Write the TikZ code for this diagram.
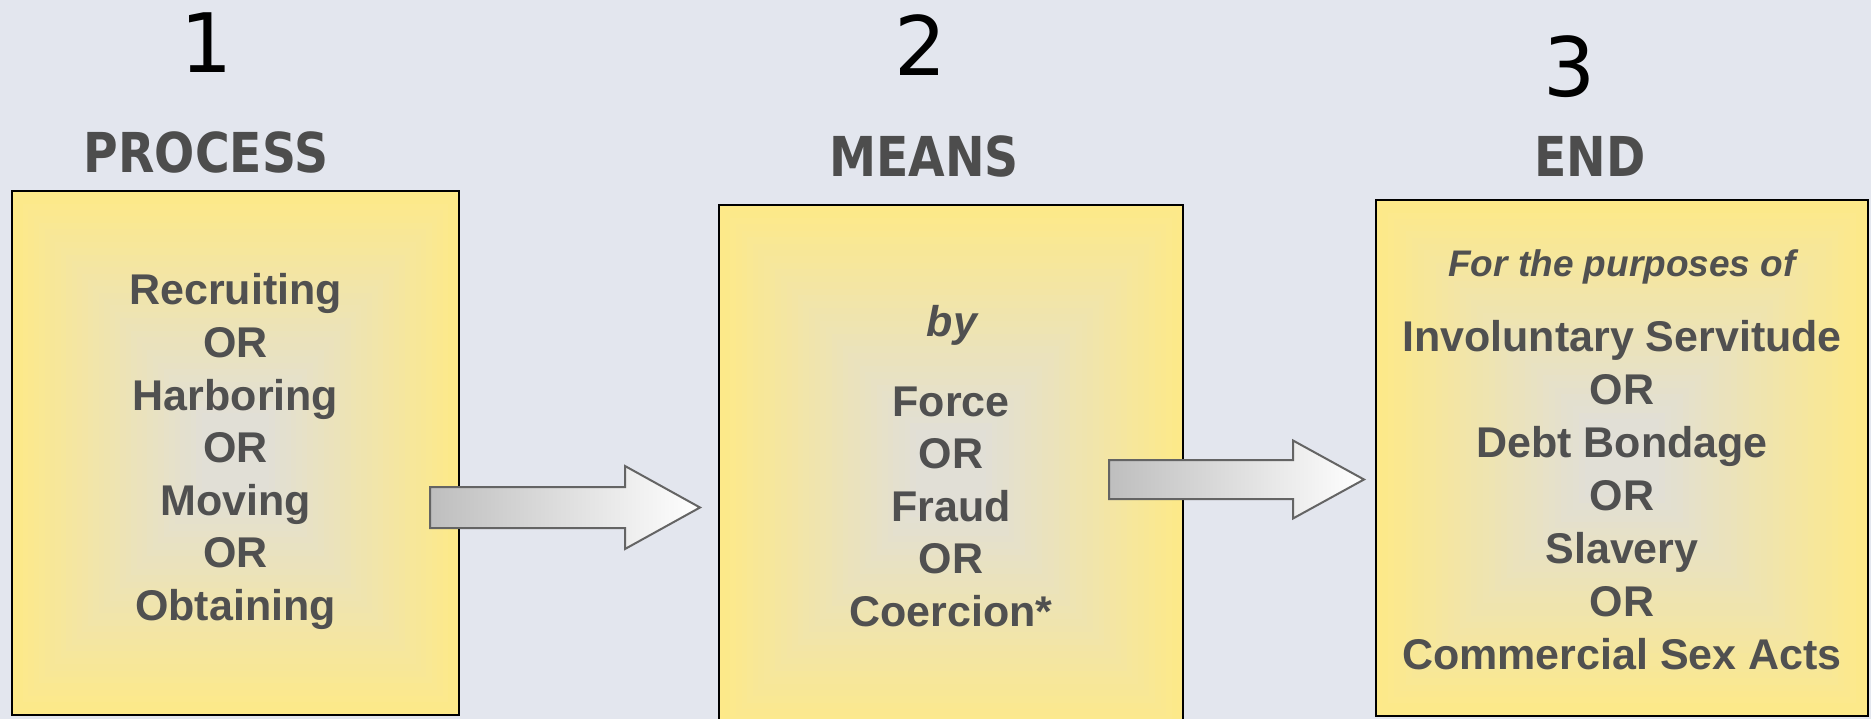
\documentclass[tikz,border=0pt]{standalone}
\usepackage{fontspec}
\setmainfont{Liberation Sans}
\newfontfamily\numfont{DejaVu Sans}
\newfontfamily\headfont[FakeStretch=0.86]{DejaVu Sans}
\usetikzlibrary{calc}
\definecolor{bg}{RGB}{227,230,238}
\definecolor{boxy}{RGB}{253,233,137}
\definecolor{boxg}{RGB}{225,223,214}
\definecolor{txt}{RGB}{80,80,80}
\definecolor{headc}{RGB}{77,77,77}
\definecolor{arrline}{RGB}{100,100,100}
\definecolor{arrleft}{RGB}{190,190,190}
\newcommand\gradbox[4]{%
  \fill[boxy] (#1,#2) rectangle (#3,#4);
  \foreach \i in {1,...,40}{
    \pgfmathsetmacro\tt{\i/40}
    \pgfmathtruncatemacro\pp{min(100,100*\tt*1.15)}
    \fill[boxg!\pp!boxy] ({#1+\tt*(#3-#1)/2*0.97},{#2+\tt*(#4-#2)/2*0.97}) rectangle ({#3-\tt*(#3-#1)/2*0.97},{#4-\tt*(#4-#2)/2*0.97});
  }}
\tikzset{
  boxframe/.style={draw=black, line width=2pt, rectangle, inner sep=0pt},
  body/.style={font=\fontsize{43}{52}\selectfont\bfseries, text=txt, anchor=base, inner sep=0pt},
  bodyit/.style={font=\fontsize{37}{44}\selectfont\bfseries\itshape, text=txt, anchor=base, inner sep=0pt},
  bodyitl/.style={font=\fontsize{43}{52}\selectfont\bfseries\itshape, text=txt, anchor=base, inner sep=0pt},
  head/.style={font=\headfont\bfseries\fontsize{55}{60}\selectfont, text=headc, anchor=base, inner sep=0pt},
  num/.style={font=\numfont\fontsize{82}{90}\selectfont, text=black, anchor=base, inner sep=0pt},
  blockarrow/.style={draw=arrline, line width=2pt, line join=miter, left color=arrleft, right color=white, shading angle=90}
}
\begin{document}
\begin{tikzpicture}[x=1pt,y=-1pt]
\useasboundingbox (0,0) rectangle (1871,719);
\clip (0,0) rectangle (1871,719);
\fill[bg] (0,0) rectangle (1871,719);

% box fills
\gradbox{12}{191}{459}{715}
\gradbox{719}{205}{1183}{735}
\gradbox{1376}{200}{1868}{716}

% box frames
\node[boxframe, minimum width=447pt, minimum height=524pt] (b1) at (235.5,453) {};
\node[boxframe, minimum width=464pt, minimum height=530pt] (b2) at (951,470) {};
\node[boxframe, minimum width=492pt, minimum height=516pt] (b3) at (1622,458) {};

% numbers and headings
\node[num] (n1) at (207,73) {1};
\node[num] (n2) at (921,76) {2};
\node[num] (n3) at (1570,97) {3};
\node[head] (h1) at (206,173) {PROCESS};
\node[head] (h2) at (924,177) {MEANS};
\node[head] (h3) at (1590,177) {END};

% arrows
\coordinate (a1s) at (430,507.5);
\coordinate (a1t) at (700,507.5);
\coordinate (a2s) at (1109,479.5);
\coordinate (a2t) at (1364,479.5);
\path[blockarrow] ($(a1s)+(0,-20.5)$) -- ($(a1t)+(-75,-20.5)$) -- ($(a1t)+(-75,-41.5)$) -- (a1t)
  -- ($(a1t)+(-75,41.5)$) -- ($(a1t)+(-75,20.5)$) -- ($(a1s)+(0,20.5)$) -- cycle;
\path[blockarrow] ($(a2s)+(0,-19.5)$) -- ($(a2t)+(-71,-19.5)$) -- ($(a2t)+(-71,-39)$) -- (a2t)
  -- ($(a2t)+(-71,39)$) -- ($(a2t)+(-71,19.5)$) -- ($(a2s)+(0,19.5)$) -- cycle;

% box 1 text
\foreach \txt/\yy [count=\k] in {Recruiting/305, OR/357.5, Harboring/410, OR/462.5, Moving/515, OR/567.5, Obtaining/620}
  \node[body] (p\k) at (235.5,\yy) {\txt};

% box 2 text
\node[bodyitl] (by) at (952,336) {by};
\foreach \txt/\yy [count=\k] in {Force/416, OR/468.5, Fraud/521, OR/573.5, Coercion*/626}
  \node[body] (m\k) at (951,\yy) {\txt};

% box 3 text
\node[bodyit] (fp) at (1622,277) {For the purposes of};
\foreach \txt/\yy [count=\k] in {Involuntary Servitude/351, OR/404, Debt Bondage/457, OR/510, Slavery/563, OR/616, Commercial Sex Acts/669}
  \node[body] (e\k) at (1622,\yy) {\txt};
\end{tikzpicture}
\end{document}
